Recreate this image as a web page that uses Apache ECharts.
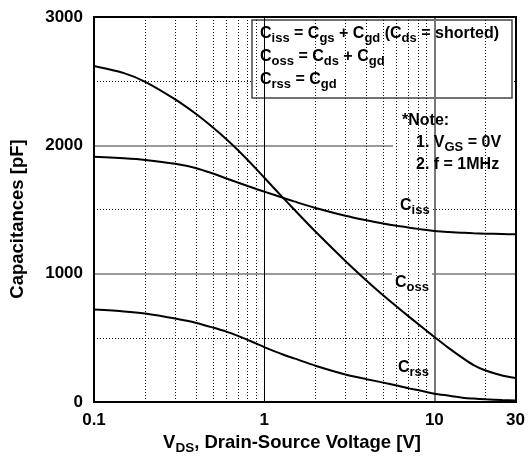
<!DOCTYPE html>
<html><head><meta charset="utf-8">
<script src="https://cdn.jsdelivr.net/npm/echarts@6/dist/echarts.min.js"></script>
<style>html,body{margin:0;padding:0;background:#fff}#c{width:528px;height:457px}</style>
</head><body><div id="c"></div>
<script>
// ---- data ----
const voltage = [0.1, 0.15, 0.2, 0.3, 0.4, 0.5, 0.6, 0.7, 0.8, 0.9, 1, 1.3, 1.5, 2, 3, 4, 5, 6, 7, 8, 9, 10, 12, 15, 17, 20, 25, 30];
const ciss = [1911, 1899, 1886, 1856, 1822, 1780, 1742, 1710, 1683, 1660, 1639, 1590, 1563, 1512, 1452, 1416, 1391, 1373, 1360, 1349, 1340, 1332, 1324, 1318, 1315, 1312, 1309, 1307];
const coss = [2618, 2563, 2495, 2358, 2242, 2139, 2048, 1964, 1886, 1815, 1749, 1587, 1500, 1328, 1099, 945, 832, 744, 671, 609, 555, 507, 426, 334, 288, 245, 207, 187];
const crss = [720, 706, 689, 650, 616, 580, 548, 515, 484, 455, 428, 368, 340, 283, 215, 178, 151, 128, 108, 93, 78, 65, 50, 32, 27, 21, 15, 11];
const minorVolts = [0.2, 0.3, 0.4, 0.5, 0.6, 0.7, 0.8, 0.9, 2, 3, 4, 5, 6, 7, 8, 9, 20];
const yTicks = [0, 1000, 2000, 3000];

const FONT = '"Liberation Sans", Arial, Helvetica, sans-serif';
const chart = echarts.init(document.getElementById('c'));
const pairs = ys => voltage.map((v, i) => [v, ys[i]]);

const rich = {
  m: {fontFamily: FONT, fontSize: 16, fontWeight: 'bold', lineHeight: 22, verticalAlign: 'middle', fill: '#000'},
  s: {fontFamily: FONT, fontSize: 13, fontWeight: 'bold', lineHeight: 13, verticalAlign: 'bottom', fill: '#000'},
  M: {fontFamily: FONT, fontSize: 18.5, fontWeight: 'bold', lineHeight: 24, verticalAlign: 'middle', fill: '#000'},
  S: {fontFamily: FONT, fontSize: 13.5, fontWeight: 'bold', lineHeight: 13.5, verticalAlign: 'bottom', fill: '#000'}
};
function txt(x, y, text, align) {
  return {type: 'text', x: x, y: y, z: 20,
    style: {text: text, rich: rich, align: align || 'left', verticalAlign: 'middle', fill: '#000',
            fontFamily: FONT, fontSize: 16, fontWeight: 'bold'}};
}
function box(x, y, w, h, stroke) {
  return {type: 'rect', z: 2, shape: {x: x, y: y, width: w, height: h},
    style: {fill: '#fff', stroke: stroke || null, lineWidth: stroke ? 1.5 : 0}};
}
const curve = (name, ys) => ({
  name: name, type: 'line', data: pairs(ys), z: 5, symbol: 'none', smooth: 0.25,
  lineStyle: {color: '#000', width: 2}, silent: true
});

const option = {
  animation: false,
  grid: {left: 94, top: 17, right: 12, bottom: 55},
  xAxis: {
    type: 'log', logBase: 10, min: 0.1, max: 30,
    axisLine: {show: false}, axisTick: {show: false}, splitLine: {show: false},
    axisLabel: {fontFamily: FONT, fontSize: 17, fontWeight: 'bold', color: '#000', margin: 10}
  },
  yAxis: {
    type: 'value', min: 0, max: 3000, interval: 1000,
    axisLine: {show: false}, axisTick: {show: false},
    axisLabel: {fontFamily: FONT, fontSize: 17, fontWeight: 'bold', color: '#000', margin: 11,
      formatter: v => yTicks.includes(v) ? String(v) : ''},
    splitLine: {lineStyle: {color: '#7a7a7a', width: 1.5}},
    minorTick: {show: false, splitNumber: 2},
    minorSplitLine: {show: true, lineStyle: {color: '#111', width: 1, type: [1, 2]}}
  },
  series: [
    {type: 'line', data: [], z: 1, silent: true,
     markLine: {silent: true, symbol: 'none', animation: false, label: {show: false},
       data: minorVolts.map(v => ({xAxis: v, lineStyle: {type: [1, 2], color: '#111', width: 1}}))
         .concat([{xAxis: 1, lineStyle: {type: 'solid', color: '#000', width: 1}},
                  {xAxis: 10, lineStyle: {type: 'solid', color: '#777', width: 2}}])}},
    curve('Ciss', ciss),
    curve('Coss', coss),
    curve('Crss', crss)
  ],
  graphic: [
    box(252, 20, 260, 78, '#444'),
    box(393, 102, 122, 79),
    box(396, 198, 36, 20),
    box(392, 236, 40, 58),
    box(396, 358, 36, 22),
    txt(260, 34, '{m|C}{s|iss}{m| = C}{s|gs}{m| + C}{s|gd}{m| (C}{s|ds}{m| = shorted)}'),
    txt(260, 57, '{m|C}{s|oss}{m| = C}{s|ds}{m| + C}{s|gd}'),
    txt(260, 80, '{m|C}{s|rss}{m| = C}{s|gd}'),
    txt(402, 121, '{m|*Note:}'),
    txt(416, 143, '{m|1. V}{s|GS}{m| = 0V}'),
    txt(416, 165, '{m|2. f = 1MHz}'),
    txt(400, 206, '{m|C}{s|iss}'),
    txt(395, 283, '{m|C}{s|oss}'),
    txt(398, 368, '{m|C}{s|rss}'),
    txt(292, 443, '{M|V}{S|DS}{M|, Drain-Source Voltage [V]}', 'center'),
    {type: 'text', x: 17.5, y: 219, rotation: Math.PI / 2, z: 20,
     style: {text: 'Capacitances [pF]', align: 'center', verticalAlign: 'middle', fill: '#000',
             fontFamily: FONT, fontSize: 18.5, fontWeight: 'bold'}},
    {type: 'rect', z: 30, shape: {x: 94, y: 17, width: 422, height: 385},
     style: {fill: 'none', stroke: '#000', lineWidth: 2}}
  ]
};
chart.setOption(option);
</script></body></html>
